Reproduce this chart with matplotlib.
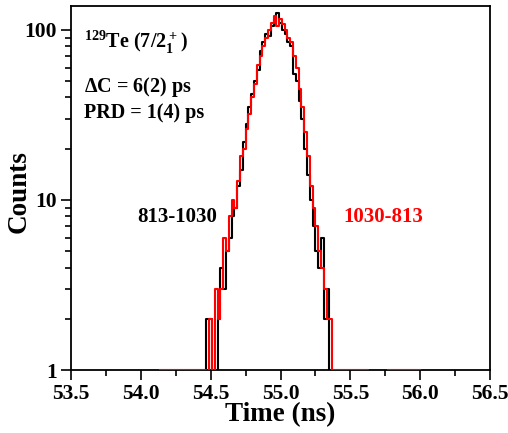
import numpy as np
import matplotlib
matplotlib.use('Agg')
import matplotlib.pyplot as plt
from matplotlib.ticker import FixedLocator, LogLocator, NullFormatter

plt.rcParams['font.family'] = 'Liberation Serif'
plt.rcParams['font.weight'] = 'bold'
plt.rcParams['mathtext.fontset'] = 'custom'
plt.rcParams['mathtext.rm'] = 'Liberation Serif:bold'
plt.rcParams['mathtext.bf'] = 'Liberation Serif:bold'

# histogram data, bin width 0.02 ns
bin_w = 0.02

# 813-1030 (black), first bin centre 54.40 ns
black_t0 = 54.40
black_counts = [0, 0, 0, 0, 2, 2, 0, 0, 2, 4,
                3, 5, 6, 8, 9, 12, 15, 22, 28, 35,
                42, 50, 58, 75, 85, 95, 92, 105, 115, 125,
                110, 100, 95, 85, 80, 55, 50, 38, 30, 20,
                14, 10, 7, 5, 4, 6, 2, 3, 0, 0]

# 1030-813 (red), first bin centre 54.14 ns
red_t0 = 54.14
red_counts = ([1] * 17 +
              [0, 2, 0, 3, 2, 3, 6, 5, 8, 10,
               9, 13, 18, 20, 26, 32, 40, 48, 62, 70,
               80, 90, 100, 110, 120, 105, 115, 108, 100, 90,
               85, 70, 60, 45, 35, 25, 18, 12, 9, 7,
               5, 4, 3, 2, 2, 1] +
              [1] * 12 + [0] * 7 + [1] * 12)

black_t = black_t0 + bin_w * np.arange(len(black_counts))
red_t = red_t0 + bin_w * np.arange(len(red_counts))

x_ticks = [53.5, 54.0, 54.5, 55.0, 55.5, 56.0, 56.5]

W, H = 508, 433
fig = plt.figure(figsize=(W / 100, H / 100), dpi=100)
ax = fig.add_axes([71 / W, 1 - 370 / H, 419 / W, 364 / H])

ax.step(black_t, black_counts, where='mid', color='black', lw=1.5, zorder=3)
ax.step(red_t, red_counts, where='mid', color='red', lw=1.5, zorder=3)

ax.set_yscale('log')
ax.set_ylim(1, 138)
ax.set_xlim(53.5, 56.5)

ax.xaxis.set_major_locator(FixedLocator(x_ticks))
ax.xaxis.set_minor_locator(FixedLocator(np.array(x_ticks[:-1]) + 0.25))
ax.set_xticklabels(['%.1f' % v for v in x_ticks])
ax.yaxis.set_major_locator(FixedLocator([1, 10, 100]))
ax.set_yticklabels(['1', '10', '100'])
ax.yaxis.set_minor_locator(LogLocator(base=10, subs=np.arange(2, 10)))
ax.yaxis.set_minor_formatter(NullFormatter())

ax.tick_params(which='both', direction='out', top=False, right=False,
               labelsize=15.5, width=1.2)
ax.tick_params(which='major', length=7, pad=3)
ax.tick_params(which='minor', length=4)
for s in ax.spines.values():
    s.set_linewidth(1.3)

ax.set_xlabel('Time (ns)', fontsize=19.5, fontweight='bold', labelpad=-1)
ax.set_ylabel('Counts', fontsize=19.5, fontweight='bold')
ax.yaxis.set_label_coords(-39 / 419, 0.49)

fig.text(84 / W, 1 - 48 / H, r'$^{129}$Te (7/2$_1^+$)', fontsize=14.5)
fig.text(84 / W, 1 - 92 / H, r'$\Delta$C = 6(2) ps', fontsize=14.5)
fig.text(84 / W, 1 - 118 / H, 'PRD = 1(4) ps', fontsize=14.5)
fig.text(137 / W, 1 - 222 / H, '813-1030', fontsize=15, color='black')
fig.text(343 / W, 1 - 222 / H, '1030-813', fontsize=15, color='red')

fig.savefig('out.png', dpi=100)
